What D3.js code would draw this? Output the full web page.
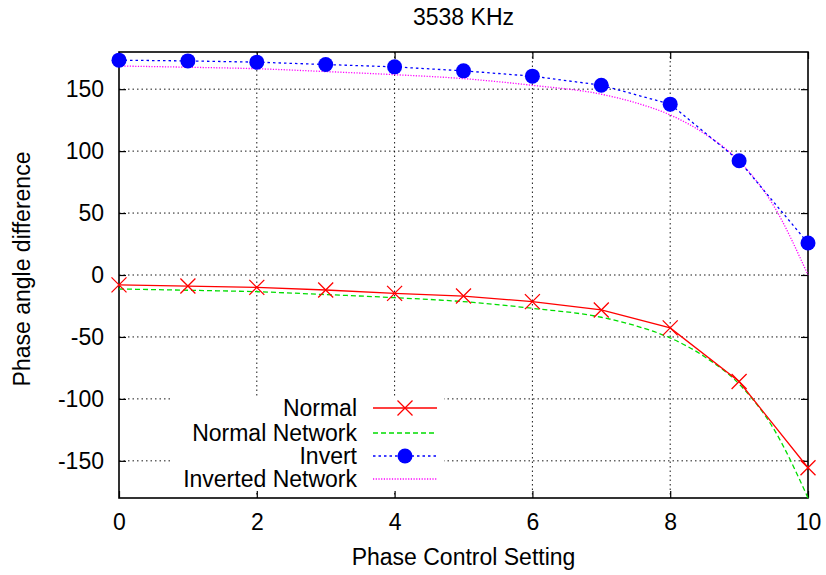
<!DOCTYPE html>
<html><head><meta charset="utf-8">
<script src="https://cdn.jsdelivr.net/npm/d3@7"></script>
<style>body{margin:0;background:#fff}svg{display:block}text{font-family:"Liberation Sans",Arial,sans-serif;fill:#000}</style>
</head><body><svg id="c" width="826" height="575"></svg>
<script>
const xs = [0,1,2,3,4,5,6,7,8,9,10];
const normal = [-8,-8.9,-10,-12.1,-14.8,-17,-21.5,-28.2,-42.7,-86,-155.6];
const invert = [173.4,172.8,171.8,169.9,168,164.8,160.5,153.2,137.9,92.2,25.8];
const networkX = [0,1,2,3,4,5,6,7,7.5,8,8.5,9,9.5,10];
const normalNetwork = [-11.3,-12.3,-13.5,-15.8,-18.3,-21.5,-26.9,-34.1,-41,-50.8,-66,-88,-124,-180];
const invertedNetwork = [168.7,167.7,166.5,164.2,161.7,158.5,153.1,145.9,139,129.2,114,92,56,0];
const xTicks = [0,2,4,6,8,10];
const yTicks = [-150,-100,-50,0,50,100,150];
const title = "3538 KHz";
const xLabel = "Phase Control Setting";
const yLabel = "Phase angle difference";
const seriesNames = ["Normal","Normal Network","Invert","Inverted Network"];

const L=119,R=808,T=52,B=498;
const svg=d3.select("#c");
const x=d3.scaleLinear().domain([0,10]).range([L,R]);
const y=d3.scaleLinear().domain([-180,180]).range([B,T]);
const FS=23;
const fmt=d=>String(d);

// grid
const g=svg.append("g");
xTicks.filter(v=>v>0&&v<10).forEach(v=>{
  g.append("line").attr("x1",x(v)).attr("x2",x(v)).attr("y1",T).attr("y2",B)
   .attr("stroke","#000").attr("stroke-width",1).attr("stroke-dasharray","1.5,3").attr("opacity",0.9);
});
yTicks.forEach(v=>{
  g.append("line").attr("x1",L).attr("x2",R).attr("y1",y(v)).attr("y2",y(v))
   .attr("stroke","#000").attr("stroke-width",1).attr("stroke-dasharray","1.5,3").attr("opacity",0.9);
});

// legend background
svg.append("rect").attr("x",172).attr("y",397).attr("width",272).attr("height",96).attr("fill","#fff");

// axes with inward ticks, mirrored
const ax=svg.append("g");
ax.append("g").attr("transform",`translate(0,${B})`).call(d3.axisBottom(x).tickValues(xTicks).tickFormat(fmt).tickSizeInner(-7).tickSizeOuter(0).tickPadding(16))
  .call(s=>{s.select(".domain").remove();s.selectAll("text").attr("font-size",FS).attr("font-family","Liberation Sans, Arial, sans-serif");});
ax.append("g").attr("transform",`translate(0,${T})`).call(d3.axisTop(x).tickValues(xTicks).tickSizeInner(-7).tickSizeOuter(0).tickFormat(""))
  .call(s=>s.select(".domain").remove());
ax.append("g").attr("transform",`translate(${L},0)`).call(d3.axisLeft(y).tickValues(yTicks).tickFormat(fmt).tickSizeInner(-7).tickSizeOuter(0).tickPadding(15))
  .call(s=>{s.select(".domain").remove();s.selectAll("text").attr("font-size",FS).attr("font-family","Liberation Sans, Arial, sans-serif");});
ax.append("g").attr("transform",`translate(${R},0)`).call(d3.axisRight(y).tickValues(yTicks).tickSizeInner(-7).tickSizeOuter(0).tickFormat(""))
  .call(s=>s.select(".domain").remove());
ax.selectAll(".tick line").attr("stroke","#000").attr("stroke-width",1.2);
svg.append("rect").attr("x",L).attr("y",T).attr("width",R-L).attr("height",B-T).attr("fill","none").attr("stroke","#000").attr("stroke-width",1.6);

// series
const lineLin=d3.line().x(d=>x(d[0])).y(d=>y(d[1]));
const lineSmooth=d3.line().x(d=>x(d[0])).y(d=>y(d[1])).curve(d3.curveMonotoneX);
const styles={
  nn:{c:"#00dd00",dash:"5,3",w:1.3},
  inn:{c:"#ff00ff",dash:"1.2,1.5",w:1.3},
  n:{c:"#ff0000",dash:null,w:1.3},
  inv:{c:"#0000ff",dash:"2.5,3",w:1.3}
};
function drawPath(data,gen,st){
  const p=svg.append("path").attr("d",gen(data)).attr("fill","none").attr("stroke",st.c).attr("stroke-width",st.w);
  if(st.dash)p.attr("stroke-dasharray",st.dash);
}
drawPath(networkX.map((v,i)=>[v,normalNetwork[i]]),lineSmooth,styles.nn);
drawPath(networkX.map((v,i)=>[v,invertedNetwork[i]]),lineSmooth,styles.inn);
drawPath(xs.map((v,i)=>[v,normal[i]]),lineLin,styles.n);
drawPath(xs.map((v,i)=>[v,invert[i]]),lineLin,styles.inv);

function cross(px,py){
  const s=7.5;
  svg.append("path").attr("d",`M${px-s},${py-s}L${px+s},${py+s}M${px-s},${py+s}L${px+s},${py-s}`)
    .attr("stroke","#ff0000").attr("stroke-width",1.3).attr("fill","none");
}
function dot(px,py){svg.append("circle").attr("cx",px).attr("cy",py).attr("r",7.5).attr("fill","#0000ff");}
xs.forEach((v,i)=>cross(x(v),y(normal[i])));
xs.forEach((v,i)=>dot(x(v),y(invert[i])));

// legend
const legY=[408,433,456,479];
const keyS=[styles.n,styles.nn,styles.inv,styles.inn];
seriesNames.forEach((nm,i)=>{
  svg.append("text").attr("x",357).attr("y",legY[i]+8).attr("text-anchor","end").attr("font-size",FS).text(nm);
  const ln=svg.append("line").attr("x1",373).attr("x2",437).attr("y1",legY[i]).attr("y2",legY[i])
    .attr("stroke",keyS[i].c).attr("stroke-width",keyS[i].w);
  if(keyS[i].dash)ln.attr("stroke-dasharray",keyS[i].dash);
  if(i===0)cross(405,legY[i]);
  if(i===2)dot(405,legY[i]);
});

// titles
svg.append("text").attr("x",(L+R)/2).attr("y",25).attr("text-anchor","middle").attr("font-size",FS).text(title);
svg.append("text").attr("x",(L+R)/2).attr("y",565).attr("text-anchor","middle").attr("font-size",FS).text(xLabel);
svg.append("text").attr("transform",`translate(30,${(T+B)/2-6}) rotate(-90)`).attr("text-anchor","middle").attr("font-size",FS).text(yLabel);
</script></body></html>
